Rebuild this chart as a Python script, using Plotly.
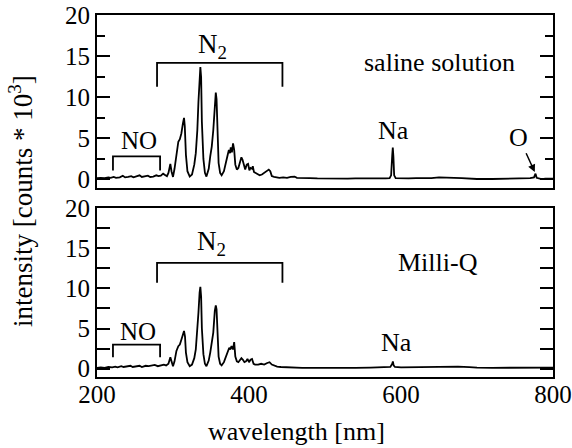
import plotly.graph_objects as go

# Emission spectrum, saline solution (wavelength in nm, intensity in 10^3 counts)
wl_saline = [200, 205, 210, 215, 218, 222, 225, 230, 234, 237, 241, 245, 248, 252, 256, 259,
             263, 267, 270, 274, 278, 281, 284, 287, 290, 292, 294, 296.5, 298, 300, 302, 305,
             307, 309, 311, 313, 314.5, 315.5, 317, 319, 322, 325, 328, 330, 332, 333.5, 335,
             336, 337, 338, 340, 342, 344, 347, 349, 351, 353, 355, 356.3, 357.3, 358.5, 360,
             362, 364, 367, 370, 372, 373.5, 375, 376, 377.5, 379, 380.5, 382, 384, 386, 388,
             390, 391.5, 393.5, 395, 397, 398.8, 400.5, 402, 404, 405, 406.5, 408, 411, 414,
             417, 420, 423, 426, 428, 430, 433, 436, 440, 445, 450, 455, 460, 463, 470, 480,
             490, 500, 510, 520, 530, 540, 550, 560, 570, 580, 585, 587, 588.5, 589.2, 590,
             591, 593, 600, 610, 620, 640, 650, 660, 670, 680, 690, 700, 720, 740, 760, 770,
             775, 777, 778.5, 785, 790, 800]
int_saline = [0.15, 0.2, 0.15, 0.25, 0.2, 0.3, 0.2, 0.25, 0.45, 0.25, 0.3, 0.4, 0.25, 0.35, 0.5, 0.3,
              0.35, 0.45, 0.3, 0.35, 0.5, 0.4, 0.45, 0.7, 0.5, 0.4, 0.8, 1.9, 1.0, 0.3, 1.3, 3.5,
              4.6, 4.9, 5.6, 6.8, 7.5, 6.5, 3.0, 1.0, 0.35, 0.6, 1.8, 3.2, 6.0, 9.5, 13.0,
              13.7, 12.5, 7.0, 2.5, 0.8, 0.35, 1.3, 2.8, 4.0, 6.0, 9.5, 10.6, 9.8, 5.0, 2.0,
              0.8, 0.5, 1.0, 2.0, 3.0, 3.6, 3.2, 3.9, 3.3, 4.4, 3.6, 1.8, 1.2, 1.4, 2.1,
              2.7, 2.4, 1.5, 1.2, 1.8, 1.9, 1.1, 1.4, 1.3, 1.6, 0.9, 0.8, 0.7, 0.5,
              0.6, 0.8, 0.9, 1.2, 1.0, 0.4, 0.3, 0.25, 0.2, 0.25, 0.2, 0.3, 0.35, 0.2, 0.15, 0.15,
              0.12, 0.1, 0.12, 0.1, 0.1, 0.12, 0.1, 0.12, 0.1, 0.12, 0.15, 0.5, 3.0, 3.9, 2.8,
              0.5, 0.15, 0.12, 0.12, 0.15, 0.15, 0.25, 0.25, 0.2, 0.15, 0.1, 0.05, 0.05, 0.1, 0.1, 0.15,
              0.25, 0.7, 0.2, 0.05, 0.1, 0.1]

# Emission spectrum, Milli-Q water
wl_milliq = [200, 205, 210, 215, 220, 224, 227, 232, 235, 240, 244, 247, 252, 256, 259, 264,
             268, 272, 276, 280, 284, 288, 291, 294, 296.5, 298.5, 300, 302, 304.5, 307, 309,
             311, 313, 314.5, 315.8, 317, 319, 322, 325, 328, 330, 332, 333.5, 335, 336, 337,
             338, 340, 342, 344, 347, 349, 351, 353, 355, 356.3, 357.3, 358.5, 360, 362, 364,
             367, 370, 372, 374, 375.5, 377, 379, 380.5, 382, 384, 386, 388, 390, 392, 394,
             396, 398, 400, 402, 404, 406, 408, 412, 416, 420, 424, 427, 430, 433, 437, 442,
             450, 460, 470, 480, 500, 520, 540, 560, 580, 586, 588.5, 589.3, 590.3, 592, 600,
             620, 640, 655, 665, 675, 690, 700, 720, 740, 760, 780, 790, 800]
int_milliq = [0.1, 0.15, 0.1, 0.2, 0.15, 0.25, 0.15, 0.3, 0.2, 0.25, 0.35, 0.2, 0.3, 0.35, 0.2, 0.35,
              0.3, 0.35, 0.45, 0.3, 0.45, 0.5, 0.4, 0.6, 1.4, 0.6, 0.3, 0.9, 2.2, 2.8, 3.0,
              3.6, 4.2, 4.7, 4.0, 2.0, 0.8, 0.3, 0.5, 1.3, 2.4, 4.6, 7.0, 9.5, 10.2, 9.0,
              5.0, 1.8, 0.6, 0.3, 1.0, 2.0, 3.0, 4.5, 7.2, 7.9, 7.4, 3.8, 1.5, 0.6, 0.4,
              0.8, 1.5, 2.2, 2.6, 2.4, 2.8, 2.4, 3.3, 1.5, 0.9, 0.8, 1.0, 1.3, 1.1, 0.8,
              0.9, 1.2, 0.8, 1.1, 1.2, 0.6, 0.5, 0.5, 0.6, 0.5, 0.7, 0.8, 0.5, 0.4, 0.25, 0.2,
              0.15, 0.15, 0.1, 0.1, 0.08, 0.1, 0.08, 0.12, 0.15, 0.2, 0.6, 0.9, 0.4, 0.2, 0.15,
              0.18, 0.2, 0.25, 0.28, 0.25, 0.18, 0.12, 0.1, 0.1, 0.12, 0.12, 0.15, 0.12]

x_ticks = [200, 400, 600, 800]
y_ticks = [0, 5, 10, 15, 20]

FONT = "Liberation Serif, Times New Roman, serif"
BLACK = "#000000"

fig = go.Figure()
fig.add_trace(go.Scatter(x=wl_saline, y=int_saline, mode="lines",
                         line=dict(color=BLACK, width=1.8), xaxis="x2", yaxis="y2",
                         showlegend=False))
# the lower spectrum carries the labelled wavelength axis (x5)
fig.add_trace(go.Scatter(x=wl_milliq, y=int_milliq, mode="lines",
                         line=dict(color=BLACK, width=1.8), xaxis="x5", yaxis="y",
                         showlegend=False))

x_range = [200, 800]
y_range = [-1.05, 20.05]

# Frame axes (lines only)
frame_x = dict(range=x_range, showline=True, linecolor=BLACK, linewidth=2, mirror=True,
               ticks="", showgrid=False, zeroline=False, showticklabels=False,
               automargin=False)
# Inward ticks along the top edge of each panel
top_ticks = dict(range=x_range, side="top", ticks="inside", ticklen=10, tickwidth=1.5,
                 tickcolor=BLACK, dtick=100, tick0=200, showticklabels=False, automargin=False,
                 showline=False, showgrid=False, zeroline=False)
common_y = dict(range=y_range, showline=True, linecolor=BLACK, linewidth=2, mirror="allticks",
                ticks="inside", ticklen=13, tickwidth=1.5, tickcolor=BLACK, automargin=False,
                tickvals=y_ticks, showgrid=False, zeroline=False,
                minor=dict(ticks="inside", dtick=2.5, tick0=0, ticklen=8, tickwidth=1.5,
                           tickcolor=BLACK, showgrid=False),
                tickfont=dict(family=FONT, size=25, color=BLACK))

fig.update_layout(
    width=572, height=448,
    margin=dict(l=97, r=19, t=15, b=71, autoexpand=False),
    paper_bgcolor="white", plot_bgcolor="white",
    font=dict(family=FONT, color=BLACK),
    xaxis=dict(frame_x, anchor="y", domain=[0, 1]),
    xaxis2=dict(frame_x, anchor="y2", domain=[0, 1]),
    xaxis3=dict(top_ticks, overlaying="x", anchor="y"),
    xaxis4=dict(top_ticks, overlaying="x2", anchor="y2"),
    # labelled wavelength axis along the bottom edge
    xaxis5=dict(range=x_range, overlaying="x", anchor="free", position=0, side="bottom",
                tickvals=x_ticks, ticks="", showline=False, showgrid=False, zeroline=False,
                automargin=False, tickfont=dict(family=FONT, size=25, color=BLACK)),
    yaxis=dict(common_y, anchor="x", domain=[0, 0.467]),
    yaxis2=dict(common_y, anchor="x2", domain=[0.522, 1]),
)

# Brackets marking the NO and N2 band regions
def bracket(x0, x1, y_low, y_top, yref, xref):
    fig.add_shape(type="path", xref=xref, yref=yref,
                  path=f"M {x0},{y_low} L {x0},{y_top} L {x1},{y_top} L {x1},{y_low}",
                  line=dict(color=BLACK, width=1.8))

bracket(279, 444, 11.3, 14.2, "y2", "x2")
bracket(221, 283, 1.1, 2.8, "y2", "x2")
bracket(279, 444, 10.7, 13.2, "y", "x")
bracket(221, 283, 1.4, 3.0, "y", "x")

def label(text, x, y, xref, yref, size=26):
    fig.add_annotation(text=text, x=x, y=y, xref=xref, yref=yref, showarrow=False,
                       font=dict(family=FONT, size=size, color=BLACK),
                       xanchor="center", yanchor="middle")

label("N<sub>2</sub>", 352, 16.3, "x2", "y2", 27)
label("NO", 255, 4.8, "x2", "y2", 25)
label("Na", 589.5, 6.0, "x2", "y2")
label("saline solution", 651, 14.2, "x2", "y2")
fig.add_annotation(text="O", x=776, y=0.9, ax=755, ay=5.15, xref="x2", yref="y2",
                   axref="x2", ayref="y2", showarrow=True, arrowhead=2, arrowsize=1,
                   arrowwidth=1.5, arrowcolor=BLACK,
                   font=dict(family=FONT, size=26, color=BLACK))

label("N<sub>2</sub>", 351, 15.7, "x", "y", 27)
label("NO", 254, 4.6, "x", "y", 25)
label("Na", 594.6, 3.3, "x", "y")
label("Milli-Q", 649, 13.2, "x", "y")

# Axis titles
fig.add_annotation(text="wavelength [nm]", xref="paper", yref="paper",
                   x=(296 - 97) / 456, y=(377 - 432) / 362, showarrow=False,
                   xanchor="center", yanchor="middle",
                   font=dict(family=FONT, size=26, color=BLACK))
fig.add_annotation(text="intensity [counts * 10<sup>3</sup>]", xref="paper", yref="paper",
                   x=(21 - 97) / 456, y=(377 - 201) / 362, showarrow=False, textangle=-90,
                   xanchor="center", yanchor="middle",
                   font=dict(family=FONT, size=27, color=BLACK))

fig.write_html("out.html")
